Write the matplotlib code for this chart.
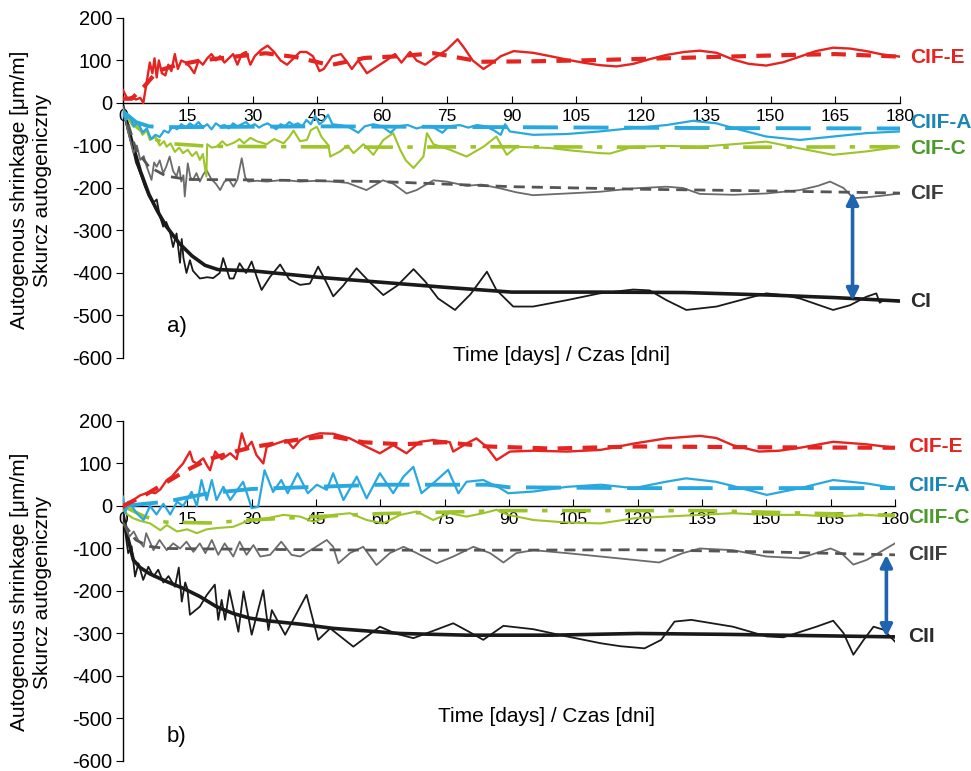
import matplotlib
matplotlib.use("Agg")
import matplotlib.pyplot as plt

plt.rcParams['font.family'] = ['Liberation Sans', 'DejaVu Sans']
plt.rcParams['axes.unicode_minus'] = False

# ---------------- data (day, value) ----------------
days_ticks = [0, 15, 30, 45, 60, 75, 90, 105, 120, 135, 150, 165, 180]
y_ticks = [-600, -500, -400, -300, -200, -100, 0, 100, 200]

# Panel a
a_cife = [(0,30),(0.5,20),(1,10),(2,14),(3,8),(4,12),(4.7,0),(5.5,50),(6.2,95),(6.8,70),(7.3,105),(7.8,60),(8.3,100),(9,70),(9.8,65),(10.5,90),(11.2,75),(12,115),(12.7,80),(13.5,100),(14.5,95),(15.5,85),(16.5,70),(17.5,100),(18.5,90),(19.5,105),(20.5,115),(21.5,100),(22.5,110),(23.5,95),(24.5,105),(25.5,115),(26.5,90),(27.5,115),(28.5,120),(29.5,90),(30.5,110),(32,125),(33.5,135),(35,120),(36.5,100),(38,90),(39.5,105),(41,120),(42.5,120),(44,110),(45.5,75),(46.5,80),(48.5,110),(50.5,115),(52,95),(53,80),(54.5,100),(56.5,70),(58,80),(61,100),(63,115),(64.5,95),(66.5,120),(68,100),(70,90),(72,105),(75,125),(77.5,150),(79,130),(81,100),(83.5,80),(85,90),(87.5,110),(90.5,122),(95,118),(100,108),(102.8,102),(106.5,95),(110.4,89),(114.3,86),(118.2,92),(122,103),(125.9,113),(130,120),(133.6,123),(137.5,118),(141.4,102),(145,92),(149,88),(153,96),(156.8,109),(160.5,122),(164.5,130),(168.4,128),(172.2,122),(176,114),(180,109)]
a_cife_trend = [(0,10),(2,10),(5,40),(8,75),(12,88),(18,100),(25,108),(33,117),(40,108),(48,89),(56,106),(64,110),(72,117),(83,97),(95,98),(110,101),(125,105),(140,109),(155,113),(165,115),(180,109)]

a_ciifa = [(0,-20),(0.5,-40),(1.5,-30),(2.5,-55),(3.5,-45),(4.5,-70),(5.5,-60),(6.5,-85),(7.5,-75),(8.5,-80),(9.5,-65),(10.5,-70),(11.5,-55),(12.5,-62),(13.5,-50),(14.5,-58),(15.5,-48),(16.5,-55),(17.5,-45),(18.5,-58),(19.5,-50),(20.5,-62),(21.5,-48),(22.5,-55),(23.5,-52),(24.5,-60),(25.5,-48),(26.5,-55),(27.5,-50),(28.5,-45),(29.5,-55),(30.5,-50),(31.5,-58),(32.5,-52),(33.5,-48),(34.5,-55),(35.5,-62),(36.5,-50),(37.5,-55),(38.5,-45),(39.5,-52),(40.5,-48),(41.5,-55),(42.5,-40),(43.5,-50),(44.5,-30),(45.5,-50),(46.5,-42),(47.5,-28),(48.5,-50),(50,-52),(52,-55),(54.5,-70),(56,-55),(58,-50),(60,-55),(62,-70),(63.5,-55),(66,-52),(68,-60),(70,-55),(72,-58),(74,-70),(75.5,-55),(78,-52),(80,-58),(82,-52),(84,-55),(86,-65),(87.5,-75),(88.5,-50),(89.6,-67),(95,-75),(102.8,-73),(110.4,-67),(118.2,-59),(125.9,-52),(132,-42),(137.5,-48),(141.4,-59),(149,-79),(156.8,-87),(164.5,-79),(172.2,-71),(180,-67)]
a_ciifa_trend = [(0,-20),(3,-45),(6,-55),(10,-57),(45,-55),(90,-57),(135,-59),(180,-60)]

a_cifc = [(0,-16),(1,-35),(2.4,-56),(3.5,-50),(4.5,-75),(5.5,-65),(6.2,-87),(7.5,-80),(8.5,-100),(9.5,-90),(10.1,-103),(11,-95),(12,-115),(13,-105),(13.9,-118),(15,-110),(16,-125),(17,-115),(17.8,-134),(18.5,-120),(19.3,-173),(19.5,-97),(20.5,-105),(21.7,-103),(23,-90),(24,-100),(25.6,-94),(27,-85),(28,-95),(29.5,-82),(31,-90),(33.3,-97),(35,-85),(37.2,-95),(38.5,-80),(39.5,-65),(41,-90),(42.6,-87),(43.5,-64),(44.9,-56),(46,-80),(47.6,-100),(48,-126),(50.3,-114),(52,-100),(53.4,-118),(55.7,-97),(58,-122),(60.3,-87),(62.6,-71),(64.2,-110),(65.5,-135),(67.3,-153),(69.6,-126),(70.4,-71),(71.9,-97),(75.7,-110),(79.6,-126),(83.5,-103),(86.5,-79),(88.9,-122),(91.2,-103),(98.9,-106),(104,-112),(110.4,-118),(112.8,-119),(118.2,-103),(125.9,-101),(133.6,-103),(141.4,-97),(149,-91),(156.8,-107),(164.5,-122),(172.2,-114),(180,-103)]
a_cifc_trend = [(0,-20),(3,-55),(6,-80),(10,-95),(20,-102),(40,-103),(60,-104),(90,-103),(120,-104),(150,-104),(180,-103)]

a_cif = [(0,-9),(1,-60),(2.4,-118),(3.2,-100),(4,-134),(4.8,-125),(5.5,-150),(6.6,-181),(7.2,-140),(7.8,-150),(8.5,-135),(9.3,-165),(10,-150),(10.8,-126),(11.6,-160),(12.4,-173),(13,-150),(13.5,-185),(14,-170),(14.3,-220),(15,-142),(15.6,-175),(16.2,-181),(17,-165),(17.8,-185),(18.5,-170),(19.3,-157),(20.5,-180),(21.5,-190),(22.5,-205),(23.5,-185),(24.5,-180),(25.6,-197),(26.5,-180),(27.5,-130),(28.3,-175),(29,-185),(31,-183),(33.3,-185),(37.2,-181),(41,-185),(45,-183),(48.7,-185),(52,-188),(56.4,-205),(60.2,-182),(62.6,-190),(65.7,-213),(68,-205),(71.9,-182),(75,-185),(79.6,-195),(83,-192),(87.4,-201),(91,-210),(95,-217),(102.8,-213),(110.4,-209),(118.2,-201),(125.9,-197),(129.7,-200),(133.6,-214),(141.4,-216),(149,-213),(156.8,-205),(161,-195),(163.8,-185),(166.9,-200),(169.2,-224),(172.2,-222),(176,-218),(180,-213)]
a_cif_trend = [(0,-10),(3,-110),(6,-150),(10,-172),(15,-180),(30,-181),(60,-185),(90,-197),(120,-203),(150,-207),(180,-212)]

a_ci = [(0,-9),(1,-60),(2,-95),(3,-140),(4,-165),(5,-195),(6,-220),(7,-235),(7.8,-227),(8.5,-265),(9.3,-291),(10,-280),(10.8,-300),(11.6,-339),(12.4,-307),(13.2,-376),(13.6,-320),(14,-365),(14.7,-400),(15.5,-370),(16.2,-395),(17.8,-413),(19.5,-410),(20.9,-412),(22.4,-400),(23.2,-365),(24.7,-413),(25.6,-413),(27,-377),(28.5,-400),(29.8,-373),(31,-410),(32.1,-440),(34,-410),(36.4,-380),(38.5,-415),(41,-428),(43.3,-425),(45.2,-385),(47,-420),(48.7,-455),(51,-430),(54.1,-389),(57,-420),(60.3,-452),(63.5,-430),(67.3,-391),(70,-420),(73,-460),(76.9,-487),(80.5,-450),(84.3,-397),(86.5,-440),(90.4,-479),(95,-479),(102.8,-464),(110.4,-448),(118.2,-439),(122,-441),(125.9,-464),(130.5,-487),(137.5,-479),(145.2,-458),(149,-448),(152.9,-452),(156.8,-460),(164.5,-487),(168.4,-476),(172.2,-456),(174.5,-448),(175.3,-470),(176,-465),(180,-467)]
a_ci_trend = [(0,-10),(2,-90),(4,-160),(6,-215),(8,-255),(10,-290),(13,-330),(16,-360),(19,-382),(22,-392),(30,-395),(45,-410),(60,-422),(75,-434),(90,-445),(110,-445),(130,-446),(150,-452),(165,-458),(180,-466)]

# Panel b
b_cife = [(0,-5),(1,5),(2.4,14),(4,25),(6.3,33),(7.5,30),(8.7,39),(10.2,61),(11.5,70),(12.6,84),(14,100),(15.6,128),(16.3,105),(17.2,100),(18.7,112),(19.6,95),(20.3,84),(21.5,128),(23,110),(25,124),(26.5,110),(27.7,171),(28.8,136),(30,151),(31.1,120),(32.7,100),(33.5,139),(35.8,147),(38.1,155),(39.7,136),(41.3,155),(42.8,163),(45.9,171),(49,170),(52.9,159),(56.8,139),(59.9,124),(63,143),(66.1,124),(69.2,151),(72.3,155),(76.2,150),(77,128),(80.1,147),(82.4,159),(84.7,140),(87.1,108),(90.2,128),(95.7,130),(103.5,128),(111.4,132),(119.2,147),(126.6,159),(134.5,165),(138.3,160),(142.2,143),(148.3,128),(153,130),(157.9,137),(165.6,151),(173.4,145),(180,137)]
b_cife_trend = [(0,0),(5,25),(10,55),(15,85),(20,110),(25,125),(30,138),(40,155),(48,165),(56,150),(65,145),(75,150),(85,140),(100,135),(120,140),(150,138),(180,137)]

b_ciifa = [(0,22),(0.5,-17),(1.2,10),(2,0),(3.2,-17),(4.8,-33),(6.3,0),(7.8,-20),(9.4,5),(11,-20),(12.6,10),(14,0),(16,33),(17.2,0),(18.3,61),(19.5,14),(20.7,61),(21.8,14),(23.4,45),(25,14),(28,57),(30,-5),(31.5,-2),(33,84),(35,33),(36.9,61),(38.4,30),(40.7,77),(43.1,30),(45.2,50),(47.5,38),(49,77),(51.4,14),(54.5,69),(56.8,18),(59.9,77),(63,30),(65.4,69),(67.7,92),(69.6,30),(72.3,53),(75.8,85),(78.2,30),(80.1,57),(84,61),(87.9,42),(89.8,30),(95.7,34),(103.5,45),(111.4,50),(119.2,42),(126.6,57),(131.3,65),(138.2,57),(142.2,47),(150.1,26),(157.9,42),(165.6,61),(173.4,53),(180,42)]
b_ciifa_trend = [(0,0),(10,10),(20,30),(30,40),(45,45),(60,50),(75,50),(85,50),(90,44),(120,42),(180,42)]

b_ciifc = [(0,-9),(1,-20),(2.4,-29),(4,-35),(6.3,-41),(8.7,-57),(10.2,-45),(12.6,-60),(15,-55),(17.2,-64),(19.5,-55),(21.8,-52),(25.7,-49),(29.6,-33),(33.5,-29),(37.4,-21),(41.3,-25),(44.4,-37),(49,-21),(52.9,-17),(56.8,-33),(60.7,-41),(64.6,-21),(68.5,-13),(72.3,-33),(76.2,-17),(80.1,-25),(84,-17),(87.1,-9),(89.8,-21),(95.7,-33),(103.5,-39),(111.4,-41),(119.2,-29),(126.6,-25),(134.5,-21),(142.2,-17),(150.1,-21),(157.9,-21),(165.6,-25),(173.4,-21),(180,-25)]
b_ciifc_trend = [(0,0),(5,-25),(10,-38),(20,-40),(30,-33),(45,-25),(60,-18),(90,-11),(135,-11),(160,-17),(180,-22)]

b_ciif = [(0,-40),(0.5,-49),(1.5,-72),(2.5,-60),(3.5,-80),(4.8,-96),(5.4,-64),(7.1,-104),(8.5,-80),(10.2,-104),(11.7,-88),(13.3,-100),(14.8,-84),(16.4,-108),(17.9,-88),(19.2,-111),(20.7,-80),(22.2,-115),(23.7,-88),(25.7,-119),(27.2,-84),(28.8,-115),(30.4,-92),(32,-119),(34.3,-115),(36.9,-84),(39.3,-115),(41.3,-119),(44.4,-100),(47.5,-80),(49,-96),(50.2,-135),(52.9,-111),(56,-96),(59.1,-139),(62.2,-111),(65.4,-96),(68.5,-111),(73.1,-135),(77,-119),(81.7,-96),(85.6,-111),(88.7,-133),(91.7,-111),(95.7,-104),(103.5,-111),(111.4,-119),(119.2,-127),(125,-133),(130.5,-111),(134.5,-100),(142.2,-104),(150.1,-119),(157.9,-123),(165,-100),(167.5,-111),(170.3,-138),(173.4,-127),(180,-88)]
b_ciif_trend = [(0,-40),(3,-80),(6,-95),(10,-100),(30,-102),(60,-104),(90,-104),(120,-103),(150,-108),(180,-115)]

b_cii = [(0,-20),(0.5,-60),(1.2,-111),(2,-95),(2.8,-166),(3.6,-135),(4.7,-174),(5.9,-143),(7.1,-166),(8.2,-150),(9.4,-180),(10.6,-165),(12.1,-190),(13,-145),(13.7,-225),(14.5,-180),(15,-195),(15.6,-256),(17.9,-237),(19.5,-210),(21.4,-185),(22.2,-268),(23,-221),(23.8,-268),(24.8,-198),(26.9,-296),(28.1,-201),(30,-303),(32.7,-198),(33.9,-292),(34.7,-245),(37.8,-303),(42.8,-209),(45.5,-315),(48.3,-288),(53.7,-331),(59.9,-284),(63.5,-300),(67.7,-311),(72,-295),(77,-276),(80.5,-295),(84,-315),(88.7,-282),(95.7,-290),(103.5,-307),(111.4,-323),(116,-330),(121.6,-335),(125.5,-315),(128.6,-272),(132.5,-268),(142.2,-284),(150.1,-307),(154,-309),(161.7,-284),(165.6,-270),(168,-299),(170.3,-350),(172.7,-315),(175,-284),(177.3,-291),(180,-319)]
b_cii_trend = [(0,-20),(1,-70),(2.4,-127),(4,-145),(6.3,-160),(10.2,-178),(14.1,-194),(17.9,-213),(21.8,-237),(25.7,-253),(29.6,-264),(33.5,-270),(41.3,-278),(49,-288),(56.8,-294),(64.6,-300),(80.1,-304),(100,-304),(120,-300),(140,-302),(160,-305),(180,-308)]

# labels: (text, y-value, colour)
a_labels = [("CIF-E", 106, '#E52421'), ("CIIF-A", -47, '#1A86B5'), ("CIF-C", -106, '#4C9A2A'),
            ("CIF", -212, '#3d3d3d'), ("CI", -468, '#2b2b2b')]
b_labels = [("CIF-E", 141, '#E52421'), ("CIIF-A", 47, '#1A86B5'), ("CIIF-C", -26, '#4C9A2A'),
            ("CIIF", -115, '#3d3d3d'), ("CII", -308, '#2b2b2b')]
a_arrow = (169, -210, -465)
b_arrow = (178, -115, -308)

RED = '#E52421'
BLUE = '#29A8E0'
GREEN = '#9DC428'
GRAY = '#6b6b6b'
BLACK = '#1a1a1a'


def xy(pts):
    return [p[0] for p in pts], [p[1] for p in pts]


fig = plt.figure(figsize=(9.71, 7.71), dpi=100)
axA = fig.add_axes([0.1267, 0.5357, 0.8002, 0.441])
axB = fig.add_axes([0.1267, 0.013, 0.7950, 0.441])


def draw(ax, series, labels, arrow, label_x, panel, panel_y, xlab_xy):
    (cife, cife_t, A, A_t, C, C_t, F, F_t, K, K_t) = series
    ax.plot(*xy(K), color=BLACK, lw=1.3, zorder=3)
    ax.plot(*xy(K_t), color=BLACK, lw=2.6, zorder=3)
    ax.plot(*xy(F), color=GRAY, lw=1.3, zorder=3)
    ax.plot(*xy(F_t), color='#555555', lw=2.0, ls=(0, (4, 2.5)), zorder=3)
    ax.plot(*xy(C), color=GREEN, lw=1.5, zorder=3)
    ax.plot(*xy(C_t), color=GREEN, lw=2.6, ls=(0, (8, 4, 1.5, 4)), zorder=3)
    ax.plot(*xy(A), color=BLUE, lw=1.6, zorder=3)
    ax.plot(*xy(A_t), color=BLUE, lw=2.8, ls=(0, (9, 4)), zorder=3)
    ax.plot(*xy(cife), color=RED, lw=1.7, zorder=3)
    ax.plot(*xy(cife_t), color=RED, lw=3.0, ls=(0, (3.5, 2.5)), zorder=3)

    ax.annotate('', xy=(arrow[0], arrow[1]), xytext=(arrow[0], arrow[2]),
                arrowprops=dict(arrowstyle='<|-|>', color='#1F64B0', lw=2.6,
                                mutation_scale=18, shrinkA=0, shrinkB=0), zorder=5)

    for txt, yv, col in labels:
        ax.text(label_x, yv, txt, color=col, fontsize=15, fontweight='bold',
                ha='left', va='center', clip_on=False, zorder=6)

    ax.set_xlim(0, 180)
    ax.set_ylim(-600, 200)
    ax.set_xticks(days_ticks)
    ax.set_yticks(y_ticks)
    ax.spines['top'].set_visible(False)
    ax.spines['right'].set_visible(False)
    ax.spines['bottom'].set_position(('data', 0))
    ax.spines['bottom'].set_linewidth(1.0)
    ax.spines['left'].set_linewidth(1.0)
    ax.tick_params(axis='x', direction='in', length=5, pad=4, labelsize=12.5)
    ax.tick_params(axis='y', direction='out', length=5, pad=3, labelsize=14.5)
    ax.text(12.5, panel_y, panel, fontsize=16, ha='center', va='center')
    ax.text(xlab_xy[0], xlab_xy[1], 'Time [days] / Czas [dni]', fontsize=15,
            ha='center', va='center')


draw(axA, (a_cife, a_cife_trend, a_ciifa, a_ciifa_trend, a_cifc, a_cifc_trend,
           a_cif, a_cif_trend, a_ci, a_ci_trend), a_labels, a_arrow, 182.3, 'a)', -527, (101.5, -593))
draw(axB, (b_cife, b_cife_trend, b_ciifa, b_ciifa_trend, b_ciifc, b_ciifc_trend,
           b_ciif, b_ciif_trend, b_cii, b_cii_trend), b_labels, b_arrow, 183.0, 'b)', -543, (98.8, -496))

for yc in (190, 592):
    fig.text(31 / 971, 1 - yc / 771, 'Autogenous shrinkage [μm/m]\nSkurcz autogeniczny',
             rotation=90, ha='center', va='center', multialignment='center', fontsize=15,
             linespacing=1.2)

fig.savefig('out.png', dpi=100)
